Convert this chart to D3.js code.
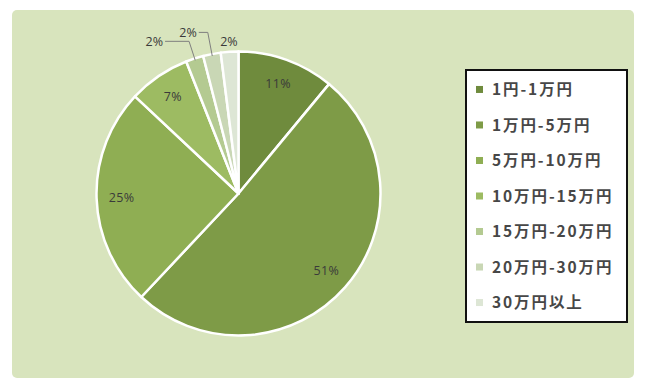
<!DOCTYPE html>
<html>
<head>
<meta charset="utf-8">
<script src="https://cdn.jsdelivr.net/npm/d3@7"></script>
<style>
  html, body { margin: 0; padding: 0; background: #fff; }
  svg { display: block; }
</style>
</head>
<body>
<script>
const width = 646
const height = 389

const categories = ["1円-1万円", "1万円-5万円", "5万円-10万円", "10万円-15万円", "15万円-20万円", "20万円-30万円", "30万円以上"]
const values = [11, 51, 25, 7, 2, 2, 2]
const colors = ["#6f8b3d", "#7e9b47", "#8fae53", "#9dbb62", "#b4ca91", "#c9d7b5", "#dde6d5"]

const center = {x: 238.5, y: 193.5}
const radius = 142

const svg = d3.select("body").append("svg")
    .attr("width", width)
    .attr("height", height)

// panel
svg.append("rect")
    .attr("x", 12).attr("y", 10)
    .attr("width", 622).attr("height", 368)
    .attr("rx", 5)
    .attr("fill", "#d8e4bd")

const data = values.map((value, i) => ({value, name: categories[i], color: colors[i], i}))

const pie = d3.pie().value(d => d.value).sort(null)
const arc = d3.arc().innerRadius(0).outerRadius(radius)
const arcs = pie(data)

const g = svg.append("g").attr("transform", `translate(${center.x},${center.y})`)

g.selectAll("path.slice")
  .data(arcs)
  .join("path")
    .attr("class", "slice")
    .attr("d", arc)
    .attr("fill", d => d.data.color)
    .attr("stroke", "#fff")
    .attr("stroke-width", 2.5)
    .attr("stroke-linejoin", "round")

const mid = d => (d.startAngle + d.endAngle) / 2
const at = (a, r) => [r * Math.sin(a), -r * Math.cos(a)]

// inside labels
const labelFont = "'Open Sans', 'DejaVu Sans', sans-serif"
const labelSize = 12.5
g.selectAll("text.inner")
  .data(arcs.filter(d => d.data.value > 5))
  .join("text")
    .attr("class", "inner")
    .attr("x", d => at(mid(d), 117)[0])
    .attr("y", d => at(mid(d), 117)[1])
    .attr("text-anchor", "middle")
    .attr("dy", "0.35em")
    .attr("font-family", labelFont)
    .attr("font-size", labelSize)
    .attr("letter-spacing", 0.3)
    .attr("fill", "#3a3a3a")
    .text(d => d.data.value + "%")

// small slices: outside labels, two of them with leader lines
const outside = arcs.filter(d => d.data.value <= 5)
const leaders = [{elbow: 18, run: 24}, {elbow: 22, run: 9}, null]

outside.forEach((d, k) => {
  const a = mid(d)
  const L = leaders[k]
  if (L) {
    const p0 = at(a, radius - 2)
    const p1 = at(a, radius + L.elbow)
    const p2 = [p1[0] - L.run, p1[1]]
    g.append("polyline")
        .attr("points", [p0, p1, p2].map(p => p.join(",")).join(" "))
        .attr("fill", "none")
        .attr("stroke", "#7f7f7f")
        .attr("stroke-width", 1)
    g.append("text")
        .attr("x", p2[0] - 2)
        .attr("y", p2[1])
        .attr("dy", "0.35em")
        .attr("text-anchor", "end")
        .attr("font-family", labelFont)
        .attr("font-size", labelSize)
        .attr("fill", "#3a3a3a")
        .text(d.data.value + "%")
  } else {
    const p = at(a, radius + 10)
    g.append("text")
        .attr("x", p[0])
        .attr("y", p[1])
        .attr("dy", "0.35em")
        .attr("text-anchor", "middle")
        .attr("font-family", labelFont)
        .attr("font-size", labelSize)
        .attr("fill", "#3a3a3a")
        .text(d.data.value + "%")
  }
})

// legend
const legend = svg.append("g")
legend.append("rect")
    .attr("x", 466).attr("y", 70)
    .attr("width", 161).attr("height", 252)
    .attr("fill", "#fff")
    .attr("stroke", "#111")
    .attr("stroke-width", 2)

const ly = d3.scaleBand().domain(categories).range([71, 321]).paddingOuter(0.02)

const items = legend.selectAll("g.item")
  .data(data)
  .join("g")
    .attr("class", "item")
    .attr("transform", d => `translate(0,${ly(d.name) + ly.bandwidth() / 2})`)

items.append("rect")
    .attr("x", 476).attr("y", -3.5)
    .attr("width", 7).attr("height", 7)
    .attr("fill", d => d.color)

items.append("text")
    .attr("x", 492)
    .attr("dy", "0.36em")
    .attr("font-family", "'Noto Sans CJK JP', sans-serif")
    .attr("font-weight", 700)
    .attr("font-size", 15.5)
    .attr("letter-spacing", 1.9)
    .attr("fill", "#474747")
    .text(d => d.name)
</script>
</body>
</html>
